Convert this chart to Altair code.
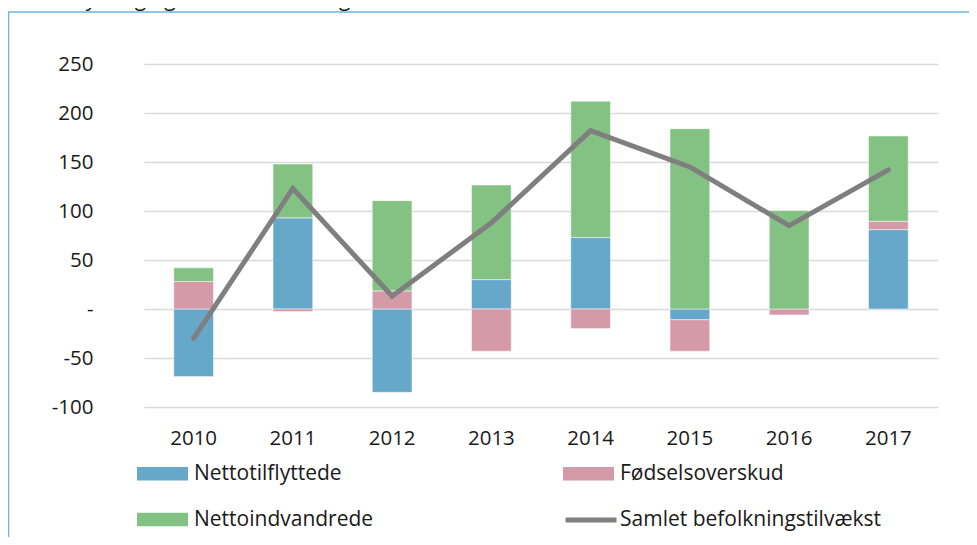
import altair as alt
import pandas as pd

years = ["2010", "2011", "2012", "2013", "2014", "2015", "2016", "2017"]
nettotilflyttede = [-69, 93, -85, 30, 73, -11, 0, 81]
foedselsoverskud = [28, -2.5, 18.5, -43, -20, -32, -6, 8.5]
nettoindvandrede = [14, 55, 92, 96.5, 139, 184, 100.5, 87]
samlet = [-30, 123, 13, 88, 182, 145, 85, 142]

bar_names = ["Nettotilflyttede", "Fødselsoverskud", "Nettoindvandrede"]
bar_colors = ["#66a8c9", "#d49aa7", "#84c283"]
line_name = "Samlet befolkningstilvækst"
line_color = "#7f7f7f"
y_ticks = [-100, -50, 0, 50, 100, 150, 200, 250]
title_text = "Nettotilflytning og nettoindvandring"

FONT = "Open Sans"
TXT = "#1a1a1a"
FRAME = "#6cb4dc"

rows = []
for i, y in enumerate(years):
    for k, vals in enumerate([nettotilflyttede, foedselsoverskud, nettoindvandrede]):
        rows.append({"year": y, "series": bar_names[k], "value": vals[i], "order": k})
df_bars = pd.DataFrame(rows)
df_line = pd.DataFrame({"year": years, "value": samlet,
                        "series": [line_name] * len(years)})

RECT = "M-1,-0.265H1V0.265H-1Z"

bar_legend = alt.Legend(
    title=None, orient="none", legendX=-7, legendY=384, columns=2,
    direction="horizontal",
    symbolSize=2601, symbolType=RECT, symbolStrokeWidth=0,
    labelFont=FONT, labelFontSize=21, labelColor=TXT, labelLimit=500,
    columnPadding=189, rowPadding=10, labelOffset=6,
)
line_legend = alt.Legend(
    title=None, orient="none", legendX=419, legendY=428,
    symbolSize=2601, symbolType="stroke", symbolStrokeWidth=5,
    labelFont=FONT, labelFontSize=21, labelColor=TXT, labelLimit=500,
    labelOffset=1,
)

x_enc = alt.X("year:N", title=None,
              scale=alt.Scale(paddingInner=0.6, paddingOuter=0.3),
              axis=alt.Axis(labelAngle=0, ticks=False, domain=False, grid=False,
                            labelPadding=21, labelFont=FONT, labelFontSize=20.5,
                            labelColor=TXT))
y_scale = alt.Scale(domain=[-100, 250], nice=False, zero=False)

bars = alt.Chart(df_bars).mark_bar(
    stroke="white", strokeWidth=0.8, strokeOpacity=0.6
).encode(
    x=x_enc,
    y=alt.Y("value:Q", stack="zero", title=None, scale=y_scale,
            axis=alt.Axis(values=y_ticks, ticks=False, domain=False,
                          grid=True, gridColor="#d9d9d9", gridWidth=1.5,
                          labelPadding=51, labelFont=FONT, labelFontSize=20.5,
                          labelColor=TXT,
                          labelExpr="datum.value == 0 ? '-\u00a0\u00a0' : '' + datum.value")),
    fill=alt.Fill("series:N", scale=alt.Scale(domain=bar_names, range=bar_colors),
                  legend=bar_legend),
    order=alt.Order("order:Q"),
)

line = alt.Chart(df_line).mark_line(strokeWidth=5, strokeCap="round").encode(
    x=alt.X("year:N"),
    y=alt.Y("value:Q", scale=y_scale),
    stroke=alt.Stroke("series:N", scale=alt.Scale(domain=[line_name], range=[line_color]),
                      legend=line_legend),
)

frame_src = pd.DataFrame({"a": [0]})
frame_top = alt.Chart(frame_src).mark_rule(stroke=FRAME, strokeWidth=1.5).encode(
    x=alt.value(-136), x2=alt.value(830), y=alt.value(-52))
frame_left = alt.Chart(frame_src).mark_rule(stroke=FRAME, strokeWidth=1.5).encode(
    x=alt.value(-135.5), y=alt.value(-52), y2=alt.value(480))

title = alt.Chart(pd.DataFrame({"t": [title_text]})).mark_text(
    align="left", baseline="alphabetic", font=FONT, fontSize=21, color=TXT
).encode(x=alt.value(-144), y=alt.value(-58), text="t:N")

chart = alt.layer(frame_top, frame_left, bars, line, title).resolve_scale(
    fill="independent", stroke="independent"
).properties(
    width=794, height=343,
    autosize=alt.AutoSizeParams(type="none"),
    padding={"left": 136, "top": 56, "right": 31, "bottom": 130},
    background="white",
).configure_view(stroke=None)

chart.save("out.html", embed_options={"renderer": "svg", "actions": False})
